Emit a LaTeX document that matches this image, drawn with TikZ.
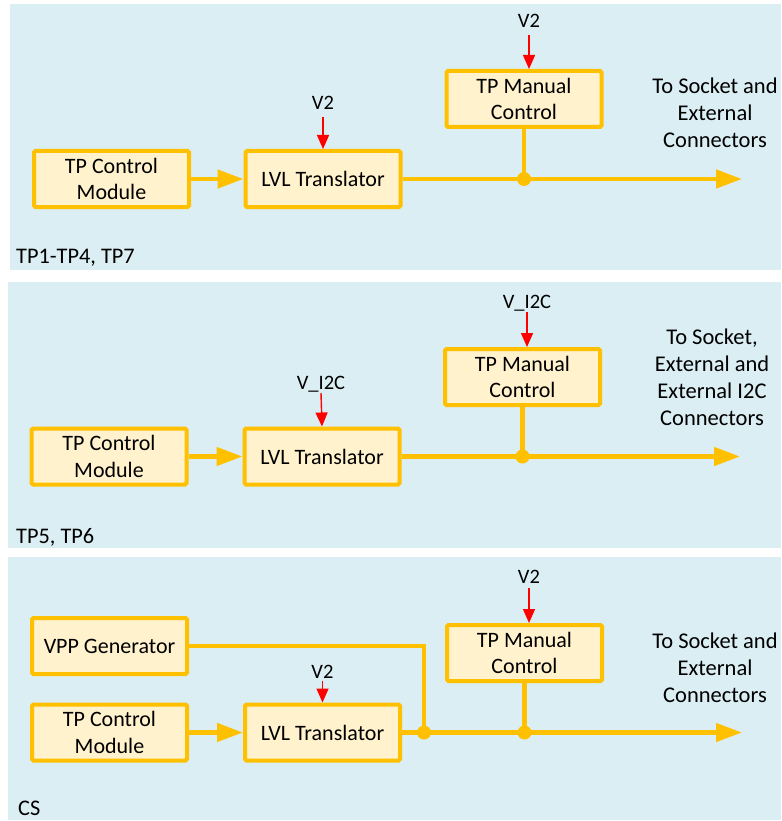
\documentclass[tikz,border=0pt]{standalone}
\usepackage{fontspec}
\setmainfont{Carlito}
\usetikzlibrary{arrows.meta}
\definecolor{bgc}{HTML}{DAEEF3}
\definecolor{boxfill}{HTML}{FFF2CC}
\definecolor{boxline}{HTML}{FFC000}
\definecolor{vred}{HTML}{FF0000}
\begin{document}
\begin{tikzpicture}[x=1pt,y=-1pt,
  blk/.style={draw=boxline, fill=boxfill, line width=4pt, rounded corners=1.5pt,
    minimum width=155pt, minimum height=56pt, align=center, inner sep=0pt,
    font=\fontsize{22}{26.5}\selectfont},
  bus/.style={draw=boxline, line width=4.5pt},
  busarrow/.style={bus, -{Triangle[length=26pt,width=18pt]}},
  vlab/.style={anchor=base, font=\fontsize{20.5}{22}\selectfont, inner sep=0pt},
  varrow/.style={draw=vred, line width=1.4pt, -{Triangle[length=14pt,width=12pt]}},
  jdot/.style={circle, fill=boxline, inner sep=0pt, minimum size=14pt},
  note/.style={align=center, font=\fontsize{22.5}{27}\selectfont, inner sep=0pt},
  plabel/.style={anchor=base west, font=\fontsize{22.3}{26}\selectfont, inner sep=0pt}]
\useasboundingbox (0,0) rectangle (781,821);
% panels
\fill[bgc] (10,4) rectangle (781,270);
\fill[bgc] (8,282) rectangle (781,548);
\fill[bgc] (8,557) rectangle (781,820);

% ---------- panel 1 ----------
\node[blk] (cm1) at (111.5,179) {TP Control\\Module};
\node[blk] (lvl1) at (323,179) {LVL Translator};
\node[blk] (mc1) at (524,99) {TP Manual\\Control};
\node[vlab] (v1) at (323,110) {V2};
\node[vlab] (vm1) at (529,28) {V2};
\coordinate (a1) at (323,117);
\coordinate (am1) at (529,35);
\coordinate (tip1) at (742,179);
\node[note] (n1) at (715,113) {To Socket and\\External\\Connectors};
\node[plabel] (p1) at (16,263) {TP1-TP4, TP7};
\draw[busarrow] (cm1) -- (lvl1);
\draw[busarrow] (lvl1.east) -- (tip1);
\draw[bus] (mc1.south) -- (mc1.south |- lvl1.east) node[jdot] (d1) {};
\draw[varrow] (a1) -- (lvl1.north);
\draw[varrow] (am1) -- (am1 |- mc1.north);

% ---------- panel 2 ----------
\node[blk] (cm2) at (109,456.5) {TP Control\\Module};
\node[blk] (lvl2) at (322,456.5) {LVL Translator};
\node[blk] (mc2) at (522.5,377) {TP Manual\\Control};
\node[vlab] (v2) at (321,389) {V\_I2C};
\node[vlab] (vm2) at (527,308) {V\_I2C};
\coordinate (a2) at (321,393);
\coordinate (am2) at (527,312);
\coordinate (tip2) at (740,456.5);
\node[note] (n2) at (712,377.5) {To Socket,\\External and\\External I2C\\Connectors};
\node[plabel] (p2) at (16,543) {TP5, TP6};
\draw[busarrow] (cm2) -- (lvl2);
\draw[busarrow] (lvl2.east) -- (tip2);
\draw[bus] (mc2.south) -- (mc2.south |- lvl2.east) node[jdot] (d2) {};
\draw[varrow] (a2) -- (lvl2.north);
\draw[varrow] (am2) -- (am2 |- mc2.north);

% ---------- panel 3 ----------
\node[blk] (vpp3) at (109.5,646) {VPP Generator};
\node[blk] (cm3) at (109.5,732.5) {TP Control\\Module};
\node[blk] (lvl3) at (322.5,732.5) {LVL Translator};
\node[blk] (mc3) at (524.5,653) {TP Manual\\Control};
\node[vlab] (v3) at (322.5,678) {V2};
\node[vlab] (vm3) at (529,583) {V2};
\coordinate (a3) at (322.5,681);
\coordinate (am3) at (529,588);
\coordinate (tip3) at (742,732.5);
\coordinate (j3) at (424,732.5);
\node[note] (n3) at (715,668) {To Socket and\\External\\Connectors};
\node[plabel] (p3) at (18,815.5) {CS};
\draw[busarrow] (cm3) -- (lvl3);
\draw[busarrow] (lvl3.east) -- (tip3);
\draw[bus] (vpp3.east) -| (j3);
\node[jdot] (d3a) at (j3) {};
\draw[bus] (mc3.south) -- (mc3.south |- lvl3.east) node[jdot] (d3b) {};
\draw[varrow] (a3) -- (lvl3.north);
\draw[varrow] (am3) -- (am3 |- mc3.north);
\end{tikzpicture}
\end{document}
